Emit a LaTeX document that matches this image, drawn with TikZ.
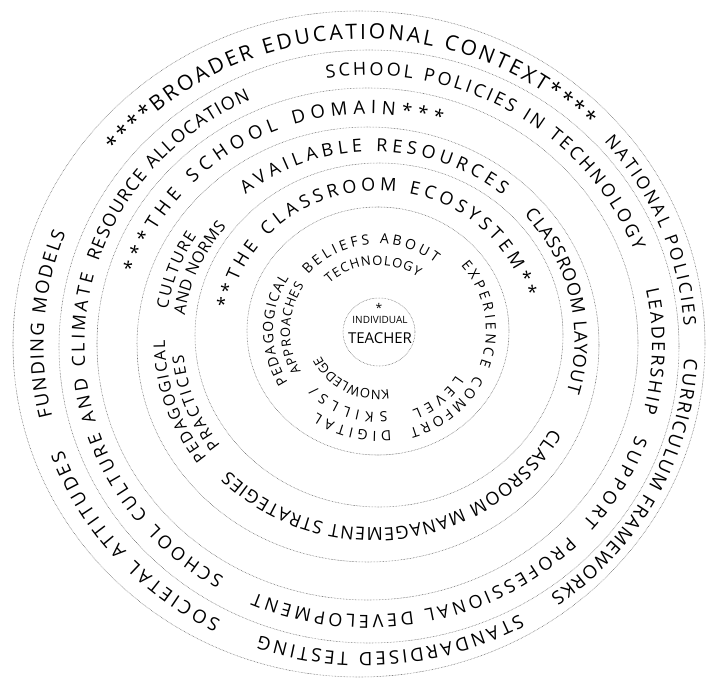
\documentclass[tikz,border=0pt]{standalone}
\usepackage{fontspec}
\setmainfont{Open Sans}
\usetikzlibrary{decorations.text}

% letter sizes for the rings, outermost first
\newcommand\fBroad{\fontsize{21}{21}\selectfont}
\newcommand\fOuter{\fontsize{18.5}{18.5}\selectfont}
\newcommand\fNat{\fontsize{17.5}{17.5}\selectfont}
\newcommand\fPol{\fontsize{18}{18}\selectfont}
\newcommand\fDom{\fontsize{18.5}{18.5}\selectfont}
\newcommand\fCls{\fontsize{18}{18}\selectfont}
\newcommand\fTwo{\fontsize{16}{16}\selectfont}
\newcommand\fEco{\fontsize{18}{18}\selectfont}
\newcommand\fInd{\fontsize{14}{14}\selectfont}
\newcommand\fSmall{\fontsize{13}{13}\selectfont}

% text set clockwise along an elliptic arc:
% #1 centre, #2 x radius, #3 y radius, #4 start angle, #5 end angle, #6 size, #7 text
\newcommand\ringlabel[7]{%
  \path[decorate,decoration={text along path,text align={fit to path},text={|#6|#7}}]
    (#1) ++(#4:#2pt and #3pt)
    arc[start angle=#4,end angle=#5,x radius=#2pt,y radius=#3pt];}

\begin{document}
\begin{tikzpicture}[x=1pt,y=1pt,
  ring/.style={draw=black!60,line width=0.55pt,dash pattern=on 0.6pt off 0.9pt}]
\useasboundingbox (0,0) rectangle (706,-679);

% centres of the hand-drawn rings
\coordinate (cT) at (379,-332);
\coordinate (cA) at (378,-331);
\coordinate (cB) at (379,-335);
\coordinate (cC) at (368,-344.5);
\coordinate (cD) at (367.5,-344);
\coordinate (cE) at (369,-346.5);
\coordinate (cO) at (359,-344);

% centres of the lettering in each band
\coordinate (tBroad) at (364,-345.25);
\coordinate (tPol) at (368.25,-345.25);
\coordinate (tDom) at (367.75,-344.25);
\coordinate (tCls) at (373.5,-339.75);
\coordinate (tEco) at (378.5,-332.25);
\coordinate (tInd) at (378,-331);

% dotted rings
\draw[ring] (cO) ellipse[x radius=346pt,y radius=333pt];
\draw[ring] (cE) ellipse[x radius=310pt,y radius=296.5pt];
\draw[ring] (cD) ellipse[x radius=270.5pt,y radius=256pt];
\draw[ring] (cC) ellipse[x radius=231pt,y radius=217.5pt];
\draw[ring] (cB) ellipse[x radius=184pt,y radius=172pt];
\draw[ring] (cA) ellipse[x radius=131pt,y radius=124pt];
\draw[ring] (cT) ellipse[x radius=36pt,y radius=34pt];

% broader educational context
\ringlabel{tBroad}{319.5}{306.25}{141}{45.5}{\fBroad}{****BROADER EDUCATIONAL CONTEXT****}
\ringlabel{tBroad}{320.5}{307.25}{41.5}{3.5}{\fNat}{NATIONAL POLICIES}
\ringlabel{tBroad}{320.5}{307.25}{-2.5}{-54.5}{\fOuter}{CURRICULUM FRAMEWORKS}
\ringlabel{tBroad}{320.5}{307.25}{-61}{-109}{\fOuter}{STANDARDISED TESTING}
\ringlabel{tBroad}{320.5}{307.25}{-116.5}{-160}{\fOuter}{SOCIETAL ATTITUDES}
\ringlabel{tBroad}{320.5}{307.25}{-166.5}{-201.5}{\fOuter}{FUNDING MODELS}

% school policies band
\ringlabel{tPol}{283.75}{269.75}{98.5}{20.5}{\fPol}{SCHOOL POLICIES IN TECHNOLOGY}
\ringlabel{tPol}{283.75}{269.75}{12}{-14.5}{\fPol}{LEADERSHIP}
\ringlabel{tPol}{283.75}{269.75}{-19.5}{-41}{\fPol}{SUPPORT}
\ringlabel{tPol}{283.75}{269.75}{-45}{-113.5}{\fPol}{PROFESSIONAL DEVELOPMENT}
\ringlabel{tPol}{283.75}{269.75}{-120.5}{-195}{\fPol}{SCHOOL CULTURE AND CLIMATE}
\ringlabel{tPol}{283.75}{269.75}{162}{114.5}{\fPol}{RESOURCE ALLOCATION}

% school domain band
\ringlabel{tDom}{244.25}{230.25}{162}{72.5}{\fDom}{***THE SCHOOL DOMAIN***}

% classroom band
\ringlabel{tCls}{201}{188.25}{129.5}{50}{\fCls}{AVAILABLE RESOURCES}
\ringlabel{tCls}{201}{188.25}{41.5}{-16}{\fCls}{CLASSROOM LAYOUT}
\ringlabel{tCls}{201}{188.25}{-28}{-136}{\fCls}{CLASSROOM MANAGEMENT STRATEGIES}
\ringlabel{tCls}{208.5}{195.75}{-143}{-180}{\fTwo}{PEDAGOGICAL}
\ringlabel{tCls}{190.5}{177.75}{-143.5}{-175}{\fTwo}{PRACTICES}
\ringlabel{tCls}{208.5}{195.75}{171}{148}{\fTwo}{CULTURE}
\ringlabel{tCls}{190.5}{177.75}{172}{140.5}{\fTwo}{AND NORMS}

% classroom ecosystem band
\ringlabel{tEco}{151}{141.5}{170.5}{14.5}{\fEco}{**THE CLASSROOM ECOSYSTEM**}

% individual teacher band
\ringlabel{tInd}{91}{87}{140}{51}{\fInd}{BELIEFS ABOUT}
\ringlabel{tInd}{70}{66}{134}{55}{\fSmall}{TECHNOLOGY}
\ringlabel{tInd}{108}{102}{40}{-20}{\fInd}{EXPERIENCE}
\ringlabel{tInd}{108}{102}{-26}{-73}{\fInd}{COMFORT}
\ringlabel{tInd}{91}{86}{-31}{-68}{\fInd}{LEVEL}
\ringlabel{tInd}{106}{100}{-83}{-125}{\fInd}{DIGITAL}
\ringlabel{tInd}{86}{81}{-84}{-137}{\fInd}{SKILLS/}
\ringlabel{tInd}{63}{59}{-80}{-155}{\fSmall}{KNOWLEDGE}
\ringlabel{tInd}{105}{99}{-149}{-212}{\fInd}{PEDAGOGICAL}
\ringlabel{tInd}{88}{83}{-151}{-213}{\fSmall}{APPROACHES}

% the teacher at the centre
\node (star) at (379,-308) {\fontsize{12}{12}\selectfont *};
\node (indiv) at (380,-320) {\fontsize{10}{10}\selectfont INDIVIDUAL};
\node (teacher) at (380,-338) {\fontsize{15}{15}\selectfont TEACHER};
\end{tikzpicture}
\end{document}
